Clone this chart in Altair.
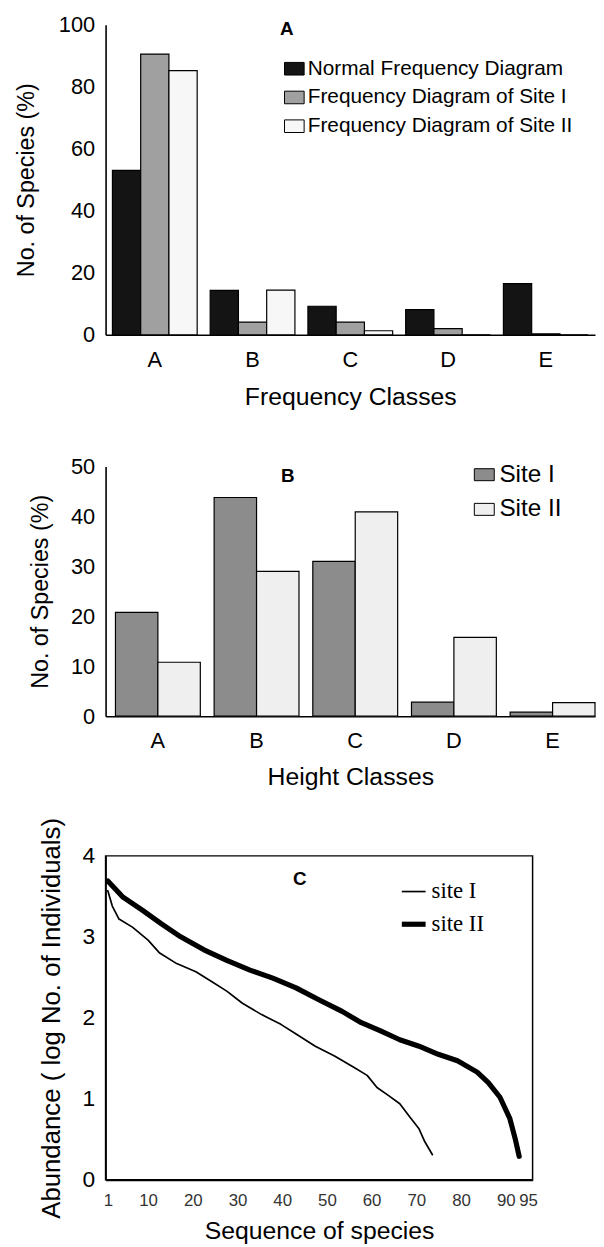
import altair as alt
import pandas as pd

FONT = "Liberation Sans"
SERIF = "Liberation Serif"

# ---------------- data ----------------
freq_classes = ["A", "B", "C", "D", "E"]
freq_series = ["Normal Frequency Diagram", "Frequency Diagram of Site I", "Frequency Diagram of Site II"]
freq_normal = [53.0, 14.3, 9.2, 8.1, 16.5]
freq_site1 = [90.5, 4.1, 4.1, 2.0, 0.3]
freq_site2 = [85.2, 14.4, 1.3, 0.0, 0.0]

height_classes = ["A", "B", "C", "D", "E"]
height_series = ["Site I", "Site II"]
height_site1 = [20.8, 43.8, 31.0, 2.8, 0.8]
height_site2 = [10.8, 29.0, 40.9, 15.8, 2.7]

seq_site1 = [1, 2, 3.5, 6.5, 10, 12.6, 16.4, 20.7, 24.2, 27.6, 31.1, 35.4, 39.7, 43.1,
             47.4, 51.7, 56.0, 59.0, 61.2, 63.8, 66.3, 68.5, 70.6, 71.9, 73.6]
abund_site1 = [3.57, 3.38, 3.22, 3.12, 2.96, 2.80, 2.67, 2.57, 2.45, 2.33, 2.18, 2.04, 1.92, 1.80,
               1.65, 1.53, 1.39, 1.29, 1.14, 1.04, 0.94, 0.78, 0.63, 0.47, 0.31]
seq_site2 = [1, 4.4, 8.7, 13.0, 17.3, 22.5, 27.6, 32.8, 37.9, 43.1, 48.3, 53.4, 57.7, 62.0,
             66.3, 70.6, 74.9, 79.2, 83.6, 86.1, 88.7, 90.9, 92.1, 93.0]
abund_site2 = [3.69, 3.49, 3.33, 3.16, 3.00, 2.84, 2.71, 2.59, 2.49, 2.37, 2.22, 2.08, 1.94, 1.84,
               1.73, 1.65, 1.55, 1.47, 1.33, 1.20, 1.02, 0.76, 0.51, 0.29]
line_series = ["site I", "site II"]
seq_ticks = [1, 10, 20, 30, 40, 50, 60, 70, 80, 90, 95]
panel_labels = ["A", "B", "C"]

# ---------------- tables ----------------
dfA = pd.DataFrame({
    "cls": freq_classes * 3,
    "seriesA": [s for s in freq_series for _ in freq_classes],
    "pct": freq_normal + freq_site1 + freq_site2,
})
dfB = pd.DataFrame({
    "hcls": height_classes * 2,
    "seriesB": [s for s in height_series for _ in height_classes],
    "pct": height_site1 + height_site2,
})
dfC = pd.DataFrame({
    "seq": seq_site1 + seq_site2,
    "abund": abund_site1 + abund_site2,
    "site": [line_series[0]] * len(seq_site1) + [line_series[1]] * len(seq_site2),
})

PLOT_W_A, PLOT_H_A = 494, 313
PLOT_W_B, PLOT_H_B = 494, 252
PLOT_W_C, PLOT_H_C = 431, 327


def yaxis(values, title, title_x, label_size, title_size):
    return alt.Axis(values=values, title=title, labelFontSize=label_size, labelPadding=11,
                    titleFontSize=title_size, titleX=title_x, titleAngle=270,
                    titleBaseline="middle", titleAlign="center", format="d")


def xaxis(title, title_y, label_pad):
    return alt.Axis(title=title, labelAngle=0, labelFontSize=22, labelBaseline="middle",
                    labelPadding=label_pad, titleFontSize=25, titleY=title_y,
                    titleBaseline="middle")


def panel_label(text, px, py):
    return alt.Chart(pd.DataFrame({"lab": [text]})).mark_text(
        font=FONT, fontSize=19, fontWeight="bold", color="black",
        align="center", baseline="middle",
    ).encode(text="lab:N", x=alt.value(px), y=alt.value(py))


# ---------------- panel A ----------------
barsA = alt.Chart(dfA).mark_bar(stroke="black", strokeWidth=1.2).encode(
    x=alt.X("cls:N", sort=freq_classes,
            scale=alt.Scale(paddingInner=0.133, paddingOuter=0.07),
            axis=xaxis("Frequency Classes", 62, 25)),
    xOffset=alt.XOffset("seriesA:N", sort=freq_series,
                        scale=alt.Scale(paddingInner=0, paddingOuter=0)),
    y=alt.Y("pct:Q", scale=alt.Scale(domain=[0, 100], nice=False),
            axis=yaxis([0, 20, 40, 60, 80, 100], "No. of Species (%)", -80, 22, 23.5)),
    fill=alt.Fill("seriesA:N", sort=freq_series,
                  scale=alt.Scale(domain=freq_series, range=["#141414", "#a0a0a0", "#f7f7f7"]),
                  legend=alt.Legend(title=None, orient="none", legendX=180, legendY=34,
                                    symbolType="M-1.4,-0.9H1.4V0.9H-1.4Z", symbolSize=200,
                                    symbolStrokeColor="black", symbolStrokeWidth=1,
                                    labelFontSize=21, labelFont=FONT, labelColor="black",
                                    labelLimit=0, rowPadding=7, labelOffset=3, padding=0)),
)
chartA = alt.layer(barsA, panel_label(panel_labels[0], 183, 4)).properties(
    width=PLOT_W_A, height=PLOT_H_A)

# ---------------- panel B ----------------
barsB = alt.Chart(dfB).mark_bar(stroke="black", strokeWidth=1.2).encode(
    x=alt.X("hcls:N", sort=height_classes,
            scale=alt.Scale(paddingInner=0.14, paddingOuter=0.05, align=1),
            axis=xaxis("Height Classes", 61, 25)),
    xOffset=alt.XOffset("seriesB:N", sort=height_series,
                        scale=alt.Scale(paddingInner=0, paddingOuter=0)),
    y=alt.Y("pct:Q", scale=alt.Scale(domain=[0, 50], nice=False),
            axis=yaxis([0, 10, 20, 30, 40, 50], "No. of Species (%)", -66, 22, 23.5)),
    fill=alt.Fill("seriesB:N", sort=height_series,
                  scale=alt.Scale(domain=height_series, range=["#8c8c8c", "#efefef"]),
                  legend=alt.Legend(title=None, orient="none", legendX=370, legendY=-4,
                                    symbolType="M-1.5,-0.9H1.5V0.9H-1.5Z", symbolSize=180,
                                    symbolStrokeColor="black", symbolStrokeWidth=1,
                                    labelFontSize=24.5, labelFont=FONT, labelColor="black",
                                    labelExpr="datum.value == 'Site I' ? '\u2002Site I' : datum.label",
                                    labelLimit=0, rowPadding=10, labelOffset=3, padding=0)),
)
chartB = alt.layer(barsB, panel_label(panel_labels[1], 184, 10)).properties(
    width=PLOT_W_B, height=PLOT_H_B)

# ---------------- panel C ----------------
linesC = alt.Chart(dfC).mark_line(color="black", strokeCap="round", strokeJoin="round").encode(
    x=alt.X("seq:Q", scale=alt.Scale(domain=[0.5, 96], nice=False, zero=False),
            axis=alt.Axis(values=seq_ticks, title="Sequence of species", labelFontSize=17,
                          labelColor="#333333", labelOverlap=False, labelFlush=False,
                          labelBaseline="middle", labelPadding=21, format="d",
                          titleFontSize=25, titleY=51, titleBaseline="middle")),
    y=alt.Y("abund:Q", scale=alt.Scale(domain=[0, 4], nice=False),
            axis=yaxis([0, 1, 2, 3, 4], "Abundance ( log No. of Individuals)", -55, 23, 26)),
    strokeWidth=alt.StrokeWidth("site:O", sort=line_series,
                                scale=alt.Scale(domain=line_series, range=[1.7, 5.2]),
                                legend=alt.Legend(title=None, orient="none", legendX=296, legendY=23,
                                                  symbolType="stroke", symbolSize=576,
                                                  symbolStrokeColor="black",
                                                  labelFontSize=23, labelFont=SERIF, labelColor="black",
                                                  labelLimit=0, rowPadding=6, labelOffset=3, padding=0)),
    order="seq:Q",
)
chartC = alt.layer(linesC, panel_label(panel_labels[2], 196, 23)).properties(
    width=PLOT_W_C, height=PLOT_H_C,
    view=alt.ViewBackground(stroke="black", strokeWidth=1.5),
)

top = alt.vconcat(chartA, chartB, spacing=47).resolve_scale(
    fill="independent", x="independent", y="independent", xOffset="independent"
).resolve_legend(fill="independent")

chart = alt.vconcat(top, chartC, spacing=27).properties(
    padding={"left": 6.5, "top": 0, "right": 0, "bottom": 0}, background="white"
).resolve_scale(
    fill="independent", strokeWidth="independent", x="independent", y="independent"
).resolve_legend(fill="independent", strokeWidth="independent").configure_view(
    stroke=None
).configure_axis(
    labelFont=FONT, titleFont=FONT, labelColor="black", titleColor="black",
    domainColor="black", domainWidth=1.6, grid=False, ticks=False, tickSize=0,
    titleFontWeight="normal",
)

chart.save("out.html", embed_options={"renderer": "svg", "actions": False})
